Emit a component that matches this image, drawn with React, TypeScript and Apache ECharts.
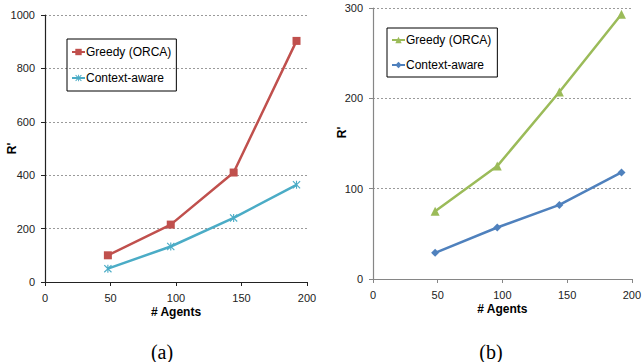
import React, { useEffect, useRef } from "react";
import * as echarts from "echarts";

const agents = [48, 96, 144, 192];
const greedyA = [100, 215, 410, 903];
const contextA = [50, 133, 240, 364];
const greedyB = [75, 125, 207, 293];
const contextB = [29, 57, 82, 118];
const xTicks = { min: 0, max: 200, interval: 50 };
const yTicksA = { min: 0, max: 1000, interval: 200 };
const yTicksB = { min: 0, max: 300, interval: 100 };
const panelLabels = ["(a)", "(b)"];

const STAR =
  "path://M0,1 L1,0 L5,4 L9,0 L10,1 L6,5 L10,9 L9,10 L5,6 L1,10 L0,9 L4,5 Z M4.3,0 L5.7,0 L5.7,10 L4.3,10 Z";

const FONT = "'Liberation Sans', Arial, sans-serif";
const plain = (v: number) => String(v);

function axisX(grid: number, axisColor: string) {
  return {
    type: "value",
    gridIndex: grid,
    ...xTicks,
    name: "# Agents",
    nameLocation: "middle",
    nameGap: 24,
    nameMoveOverlap: false,
    nameTextStyle: { fontFamily: FONT, fontWeight: "bold", fontSize: 12, color: "#000" },
    axisLine: { show: true, lineStyle: { color: axisColor, width: 1.2 } },
    axisTick: { show: true, length: 4, lineStyle: { color: axisColor } },
    axisLabel: { fontFamily: FONT, fontSize: 11, color: "#222", margin: 10, formatter: plain },
    splitLine: { show: false },
  };
}

function axisY(grid: number, ticks: any, axisColor: string, gap: number, pad: number[]) {
  return {
    type: "value",
    gridIndex: grid,
    ...ticks,
    name: "R'",
    nameLocation: "middle",
    nameGap: gap,
    nameRotate: 90,
    nameMoveOverlap: false,
    nameTextStyle: { fontFamily: FONT, fontWeight: "bold", fontSize: 12, color: "#000", padding: pad },
    axisLine: { show: true, lineStyle: { color: axisColor, width: 1.2 } },
    axisTick: { show: true, length: 4, lineStyle: { color: axisColor } },
    axisLabel: { fontFamily: FONT, fontSize: 11, color: "#222", margin: 10, formatter: plain },
    splitLine: { show: true, lineStyle: { color: "#9a9a9a", type: [2, 2], width: 1 } },
  };
}

function lineSeries(name: string, data: number[], color: string, symbol: string, size: number, idx: number) {
  return {
    type: "line",
    name,
    xAxisIndex: idx,
    yAxisIndex: idx,
    data: agents.map((x, i) => [x, data[i]]),
    symbol,
    symbolSize: size,
    lineStyle: { color, width: 2.5 },
    itemStyle: { color },
    emphasis: { disabled: true },
  };
}

export default function App() {
  const ref = useRef<HTMLDivElement>(null);
  useEffect(() => {
    if (!ref.current) return;
    const chart = echarts.init(ref.current, undefined, { renderer: "svg" });
    const strip = (n: string) => n.replace(/#b$/, "");
    const legendCommon = {
      orient: "vertical",
      itemWidth: 13,
      itemHeight: 8,
      borderColor: "#000",
      borderWidth: 1,
      selectedMode: false,
      textStyle: { fontFamily: FONT, fontSize: 12, color: "#000", padding: [0, 0, 0, -4] },
    };
    chart.setOption({
      animation: false,
      backgroundColor: "#fff",
      grid: [
        { left: 45, right: 337, top: 15, bottom: 80 },
        { left: 373, right: 8, top: 8, bottom: 83 },
      ],
      xAxis: [axisX(0, "#222"), axisX(1, "#868686")],
      yAxis: [
        axisY(0, yTicksA, "#222", 27, [0, 0, 0, 0]),
        axisY(1, yTicksB, "#868686", 25, [0, 0, 0, 22]),
      ],
      legend: [
        {
          ...legendCommon,
          data: ["Greedy (ORCA)", "Context-aware"],
          left: 67,
          top: 39,
          padding: [7, 5, 7, 4],
          itemGap: 14,
        },
        {
          ...legendCommon,
          data: ["Greedy (ORCA)#b", "Context-aware#b"],
          formatter: strip,
          left: 387,
          top: 28,
          padding: [6, 6, 6, 4],
          itemGap: 13,
        },
      ],
      series: [
        lineSeries("Greedy (ORCA)", greedyA, "#C0504D", "rect", 8, 0),
        lineSeries("Context-aware", contextA, "#4BACC6", STAR, 8, 0),
        lineSeries("Greedy (ORCA)#b", greedyB, "#9BBB59", "triangle", 9, 1),
        lineSeries("Context-aware#b", contextB, "#4F81BD", "diamond", 8, 1),
      ],
      graphic: [
        {
          type: "text",
          x: 162,
          y: 352,
          style: {
            text: panelLabels[0],
            font: "20px 'Liberation Serif', 'DejaVu Serif', serif",
            fill: "#000",
            align: "center",
            verticalAlign: "middle",
          },
        },
        {
          type: "text",
          x: 491,
          y: 352,
          style: {
            text: panelLabels[1],
            font: "20px 'Liberation Serif', 'DejaVu Serif', serif",
            fill: "#000",
            align: "center",
            verticalAlign: "middle",
          },
        },
      ],
    });
    return () => chart.dispose();
  }, []);
  return (
    <div
      ref={ref}
      style={{ position: "fixed", left: 0, top: 0, width: 644, height: 362, background: "#fff" }}
    />
  );
}
